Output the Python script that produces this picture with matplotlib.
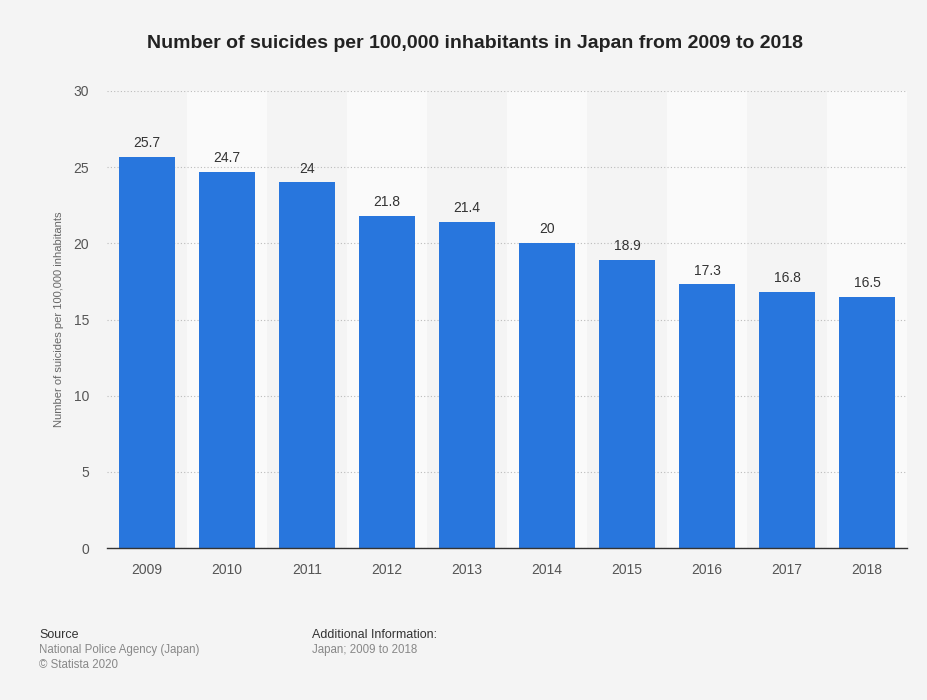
import matplotlib.pyplot as plt
import numpy as np

years = ['2009', '2010', '2011', '2012', '2013', '2014', '2015', '2016', '2017', '2018']
rates = [25.7, 24.7, 24, 21.8, 21.4, 20, 18.9, 17.3, 16.8, 16.5]
labels = ['25.7', '24.7', '24', '21.8', '21.4', '20', '18.9', '17.3', '16.8', '16.5']
yticks = [0, 5, 10, 15, 20, 25, 30]

plt.rcParams['font.family'] = ['Liberation Sans', 'DejaVu Sans']

fig = plt.figure(figsize=(9.28, 7), dpi=100, facecolor='#f4f4f4')
ax = fig.add_axes([0.1153, 0.2171, 0.8621, 0.6529])
ax.set_facecolor('#f4f4f4')

x = np.arange(len(years))
# alternating column bands
for i in x:
    if i % 2 == 1:
        ax.axvspan(i - 0.5, i + 0.5, color='#fafafa', zorder=0, lw=0)

ax.bar(x, rates, width=0.7, color='#2876dd', zorder=3)
for xi, v, t in zip(x, rates, labels):
    ax.text(xi, v + 0.45, t, ha='center', va='bottom', fontsize=10, color='#333333', zorder=4)

ax.set_xlim(-0.5, len(years) - 0.5)
ax.set_ylim(0, 30)
ax.set_yticks(yticks)
ax.set_xticks(x)
ax.set_xticklabels(years)
ax.tick_params(axis='both', length=0, labelsize=10, labelcolor='#555555')
ax.tick_params(axis='y', pad=13)
ax.tick_params(axis='x', pad=11)
ax.yaxis.grid(True, linestyle=(0, (1, 2)), color='#bbbbbb', lw=0.8, zorder=1)
for s in ['top', 'right', 'left']:
    ax.spines[s].set_visible(False)
ax.spines['bottom'].set_color('#333333')
ax.spines['bottom'].set_linewidth(1)
ax.spines['bottom'].set_zorder(5)
ax.set_ylabel('Number of suicides per 100,000 inhabitants', fontsize=8, color='#666666', labelpad=7)

fig.text(475 / 928, 1 - 44 / 700, 'Number of suicides per 100,000 inhabitants in Japan from 2009 to 2018',
         ha='center', va='center', fontsize=14, fontweight='bold', color='#222222')

fig.text(39 / 928, 1 - 635 / 700, 'Source', fontsize=9, color='#333333', va='center')
fig.text(39 / 928, 1 - 650 / 700, 'National Police Agency (Japan)', fontsize=8.3, color='#888888', va='center')
fig.text(39 / 928, 1 - 665 / 700, '\u00a9 Statista 2020', fontsize=8.3, color='#888888', va='center')
fig.text(312 / 928, 1 - 635 / 700, 'Additional Information:', fontsize=9, color='#333333', va='center')
fig.text(312 / 928, 1 - 650 / 700, 'Japan; 2009 to 2018', fontsize=8.3, color='#888888', va='center')

fig.savefig('out.png', dpi=100, facecolor=fig.get_facecolor())
